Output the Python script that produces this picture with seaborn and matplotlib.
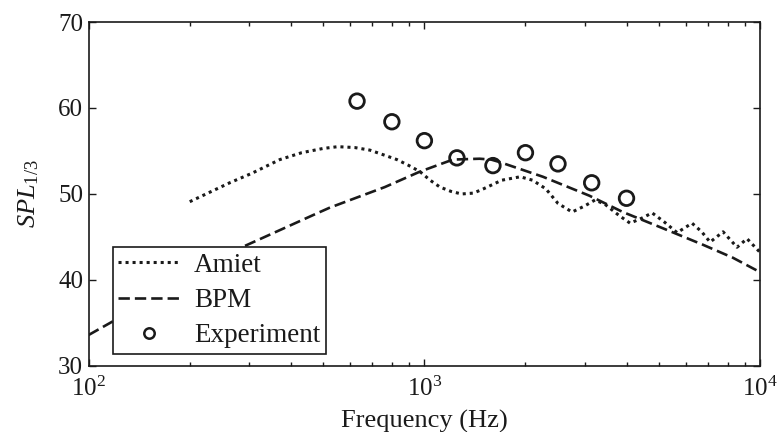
import numpy as np
import pandas as pd
import matplotlib
matplotlib.use("Agg")
import matplotlib.pyplot as plt
import seaborn as sns
from matplotlib.ticker import LogLocator, FixedLocator, FuncFormatter, NullFormatter
from matplotlib.lines import Line2D

# Amiet prediction (one-third octave SPL)
amiet_freq = [200, 263, 306, 371, 431, 500, 552, 620, 688, 762, 828, 900, 970,
              1040, 1113, 1200, 1290, 1400, 1500, 1700, 1929, 2100, 2300, 2500,
              2754, 3000, 3223, 3450, 3800, 4100, 4450, 4768, 5200, 5659, 6270,
              6700, 7096, 7757, 8536, 9141, 10000]
amiet_spl = [49.1, 51.3, 52.4, 54.0, 54.8, 55.3, 55.5, 55.4, 55.1, 54.5, 54.0,
             53.3, 52.6, 51.6, 50.8, 50.3, 50.0, 50.1, 50.6, 51.6, 52.0, 51.6,
             50.6, 48.9, 47.9, 48.6, 49.3, 48.8, 47.5, 46.6, 47.2, 47.8, 46.7,
             45.5, 46.6, 45.6, 44.4, 45.6, 43.8, 44.8, 43.2]

# BPM prediction
bpm_freq = [100, 117, 286, 482, 522, 762, 970, 1216, 1460, 1580, 1679, 2255,
            3100, 3900, 5140, 6750, 8280, 10000]
bpm_spl = [33.6, 35.1, 43.8, 47.8, 48.4, 50.8, 52.6, 54.0, 54.1, 54.0, 53.7,
           52.0, 49.8, 47.9, 46.0, 44.1, 42.6, 40.9]

# Measured one-third octave band levels
exp_freq = [630, 800, 1000, 1250, 1600, 2000, 2500, 3150, 4000]
exp_spl = [60.8, 58.4, 56.2, 54.2, 53.3, 54.8, 53.5, 51.3, 49.5]

x_ticks = [1e2, 1e3, 1e4]
y_ticks = [30, 40, 50, 60, 70]

sns.set_theme(style="ticks")
plt.rcParams["font.family"] = ["Liberation Serif", "DejaVu Serif"]
plt.rcParams["mathtext.fontset"] = "custom"
plt.rcParams["mathtext.rm"] = "Liberation Serif"
plt.rcParams["mathtext.it"] = "Liberation Serif:italic"
plt.rcParams["mathtext.bf"] = "Liberation Serif:bold"

ink = "#1a1a1a"
tick_fs = 18
label_fs = 19
legend_fs = 19.5

fig = plt.figure(figsize=(7.78, 4.32), dpi=100)
ax = fig.add_axes([0.114, 0.153, 0.863, 0.796])

amiet_df = pd.DataFrame({"f": amiet_freq, "spl": amiet_spl})
bpm_df = pd.DataFrame({"f": bpm_freq, "spl": bpm_spl})
exp_df = pd.DataFrame({"f": exp_freq, "spl": exp_spl})

dot_style = (1.0, 1.3)
dash_style = (4.3, 1.9)

sns.lineplot(data=amiet_df, x="f", y="spl", ax=ax, color=ink, lw=2.2,
             estimator=None, sort=False)
ax.lines[-1].set_dashes(dot_style)
sns.lineplot(data=bpm_df, x="f", y="spl", ax=ax, color=ink, lw=1.9,
             estimator=None, sort=False)
ax.lines[-1].set_dashes(dash_style)
sns.scatterplot(data=exp_df, x="f", y="spl", ax=ax, marker="o", s=110,
                facecolor="none", edgecolor=ink, linewidth=2.0, zorder=4)

ax.set_xscale("log")
ax.set_xlim(1e2, 1e4)
ax.set_ylim(30, 70)
ax.xaxis.set_major_locator(FixedLocator(x_ticks))
ax.xaxis.set_major_formatter(
    FuncFormatter(lambda v, p: r"$\mathregular{10^{%d}}$" % int(round(np.log10(v)))))
ax.xaxis.set_minor_locator(LogLocator(base=10, subs=np.arange(2, 10)))
ax.xaxis.set_minor_formatter(NullFormatter())
ax.yaxis.set_major_locator(FixedLocator(y_ticks))

ax.tick_params(which="both", direction="in", top=True, right=True,
               colors=ink, labelsize=tick_fs, width=1.0)
ax.tick_params(which="major", length=5, pad=4)
ax.tick_params(which="minor", length=3)
ax.tick_params(axis="x", which="major", pad=8)
for sp in ax.spines.values():
    sp.set_color(ink)
    sp.set_linewidth(1.2)

ax.set_xlabel("Frequency (Hz)", fontsize=label_fs, color=ink, labelpad=6)
ax.set_ylabel(r"$\mathit{SPL}_{\mathregular{1/3}}$", fontsize=label_fs,
              color=ink, labelpad=12)

handles = [
    Line2D([], [], color=ink, lw=2.2, dashes=dot_style),
    Line2D([], [], color=ink, lw=1.9, dashes=dash_style),
    Line2D([], [], color=ink, lw=0, marker="o", markersize=7.5,
           markerfacecolor="none", markeredgecolor=ink, markeredgewidth=1.8),
]
leg = ax.legend(handles, ["Amiet", "BPM", "Experiment"], loc="lower left",
                bbox_to_anchor=(0.036, 0.035), borderaxespad=0,
                fontsize=legend_fs, frameon=True, fancybox=False,
                edgecolor=ink, framealpha=1, handlelength=2.3,
                handletextpad=0.5, labelspacing=0.38, borderpad=0.2)
leg.get_frame().set_linewidth(1.2)
for t in leg.get_texts():
    t.set_color(ink)

fig.savefig("out.png", dpi=100)
